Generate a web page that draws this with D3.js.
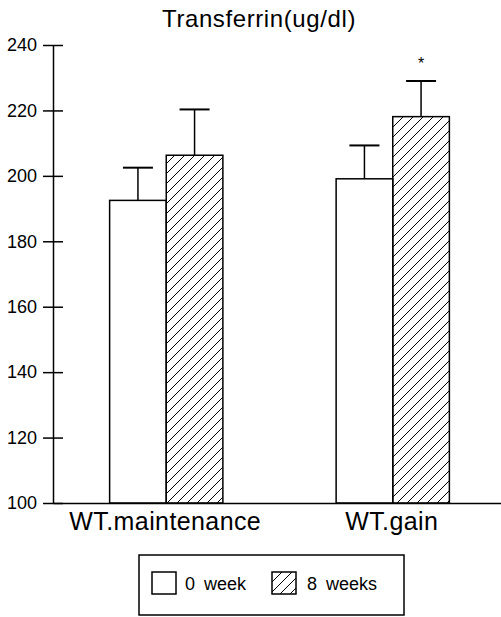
<!DOCTYPE html>
<html lang="en">
<head>
<meta charset="UTF-8">
<title>Transferrin</title>
<style>
  body { margin: 0; background: #fff; }
  svg { display: block; font-family: "Liberation Sans", Arial, sans-serif; }
</style>
</head>
<body>
<div id="chart"></div>
<script src="https://cdnjs.cloudflare.com/ajax/libs/d3/7.8.5/d3.min.js"></script>
<script>
const groups = ['WT.maintenance', 'WT.gain'];
const series = ['0 week', '8 weeks'];
const means = [[192.5, 206.3], [199.1, 218.1]];
const errors = [[10, 14], [10.2, 10.9]];
const stars = [['', ''], ['', '*']];
const yTicks = [100, 120, 140, 160, 180, 200, 220, 240];

const w = 501, h = 617;
const padLeft = 53, padTop = 45, padBottom = 503;

const svg = d3.select('#chart').append('svg')
    .attr('width', w)
    .attr('height', h);

// hatch pattern
const defs = svg.append('defs');
defs.append('pattern')
    .attr('id', 'hatch')
    .attr('patternUnits', 'userSpaceOnUse')
    .attr('width', 10)
    .attr('height', 10)
    .append('path')
    .attr('d', 'M-2,12 L12,-2 M-2,2 L2,-2 M8,12 L12,8')
    .attr('stroke', '#000')
    .attr('stroke-width', 1);

const y = d3.scaleLinear().domain([100, 240]).range([padBottom, padTop]);
const x0 = d3.scaleBand().domain(groups).range([padLeft, 506])
    .paddingInner(0.5).paddingOuter(0.25);
const x1 = d3.scaleBand().domain(series).range([0, x0.bandwidth()]);

// title
svg.append('text')
    .attr('x', 259)
    .attr('y', 27)
    .attr('text-anchor', 'middle')
    .style('font-size', '24px')
    .style('letter-spacing', '0.6px')
    .text('Transferrin(ug/dl)');

// bars
const rows = [];
groups.forEach((g, i) => series.forEach((s, j) => {
    rows.push({ g, s, v: means[i][j], e: errors[i][j], star: stars[i][j] });
}));

const bar = svg.append('g').selectAll('g')
    .data(rows)
    .enter()
    .append('g');

bar.append('rect')
    .attr('x', d => x0(d.g) + x1(d.s))
    .attr('y', d => y(d.v))
    .attr('width', x1.bandwidth())
    .attr('height', d => y(100) - y(d.v))
    .attr('fill', d => d.s === '0 week' ? '#fff' : 'url(#hatch)')
    .attr('stroke', '#000')
    .attr('stroke-width', 1.5);

const cx = d => x0(d.g) + x1(d.s) + x1.bandwidth() / 2;
bar.append('line')
    .attr('x1', cx).attr('x2', cx)
    .attr('y1', d => y(d.v))
    .attr('y2', d => y(d.v + d.e))
    .attr('stroke', '#000')
    .attr('stroke-width', 1.5);
bar.append('line')
    .attr('x1', d => cx(d) - 15).attr('x2', d => cx(d) + 15)
    .attr('y1', d => y(d.v + d.e))
    .attr('y2', d => y(d.v + d.e))
    .attr('stroke', '#000')
    .attr('stroke-width', 2);
bar.append('text')
    .attr('x', cx)
    .attr('y', d => y(d.v + d.e) - 12)
    .attr('text-anchor', 'middle')
    .style('font-size', '16px')
    .text(d => d.star);

// y axis
const yAxis = d3.axisLeft(y)
    .tickValues(yTicks)
    .tickSize(10)
    .tickSizeOuter(0)
    .tickPadding(6);
const gy = svg.append('g')
    .attr('transform', `translate(${padLeft},0)`)
    .call(yAxis);
gy.selectAll('.tick line').attr('x1', 10).attr('stroke-width', 1.5);
gy.select('.domain').attr('stroke-width', 1.5);
gy.selectAll('.tick text')
    .style('font-size', '18px')
    .style('font-family', '"Liberation Sans", Arial, sans-serif')
    .attr('fill', '#000');

// x axis
const gx = svg.append('g')
    .attr('transform', `translate(0,${padBottom})`)
    .call(d3.axisBottom(x0).tickSize(0).tickSizeOuter(0).tickPadding(9));
gx.select('.domain').attr('stroke-width', 1.5);
gx.selectAll('.tick text')
    .attr('dx', -1)
    .style('font-size', '25px')
    .style('letter-spacing', '0.4px')
    .style('font-family', '"Liberation Sans", Arial, sans-serif')
    .attr('fill', '#000');

// legend
const legend = svg.append('g').attr('transform', 'translate(139,555)');
legend.append('rect')
    .attr('width', 265)
    .attr('height', 60)
    .attr('fill', '#fff')
    .attr('stroke', '#000')
    .attr('stroke-width', 1.5);
const item = legend.selectAll('.item')
    .data(series)
    .enter()
    .append('g')
    .attr('class', 'item')
    .attr('transform', (d, i) => `translate(${i === 0 ? 13 : 133},17)`);
item.append('rect')
    .attr('width', 24)
    .attr('height', 22)
    .attr('fill', d => d === '0 week' ? '#fff' : 'url(#hatch)')
    .attr('stroke', '#000')
    .attr('stroke-width', 1.5);
item.append('text')
    .attr('x', (d, i) => i === 0 ? 33 : 35)
    .attr('y', 18)
    .style('font-size', '18px')
    .style('word-spacing', '4px')
    .text(d => d);
</script>
</body>
</html>
